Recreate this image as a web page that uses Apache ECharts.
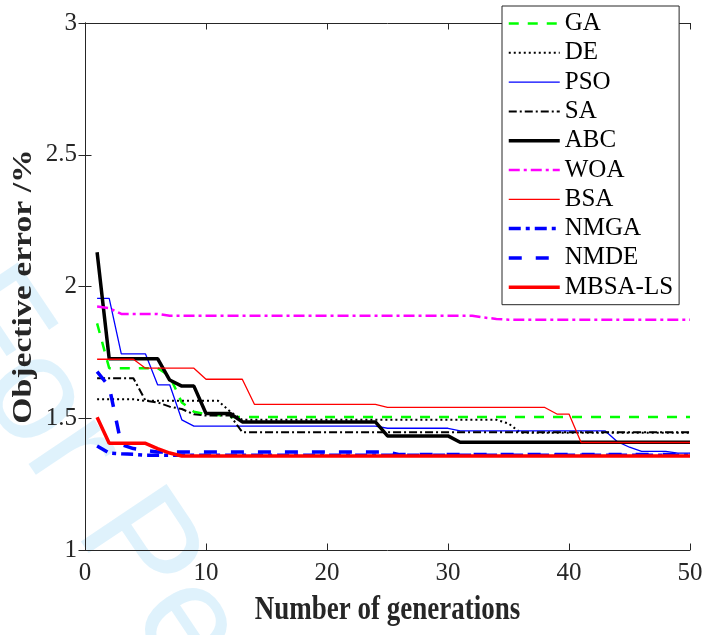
<!DOCTYPE html>
<html>
<head>
<meta charset="utf-8">
<script src="https://cdn.jsdelivr.net/npm/echarts@6/dist/echarts.min.js"></script>
<style>html,body{margin:0;padding:0;background:#fff;}#chart{width:711px;height:635px;}</style>
</head>
<body>
<div id="chart"></div>
<script>
const generations = [1,2,3,4,5,6,7,8,9,10,11,12,13,14,15,16,17,18,19,20,21,22,23,24,25,26,27,28,29,30,31,32,33,34,35,36,37,38,39,40,41,42,43,44,45,46,47,48,49,50];
const seriesNames = ['GA','DE','PSO','SA','ABC','WOA','BSA','NMGA','NMDE','MBSA-LS'];
const xTickLabels = ['0','10','20','30','40','50'];
const yTickLabels = ['1','1.5','2','2.5','3'];

const GA = [1.86,1.69,1.69,1.69,1.69,1.69,1.66,1.56,1.525,1.515,
  1.512,1.505,1.505,1.505,1.505,1.505,1.505,1.505,1.505,1.505,
  1.505,1.505,1.505,1.505,1.505,1.505,1.505,1.505,1.505,1.505,
  1.505,1.505,1.505,1.505,1.505,1.505,1.505,1.505,1.505,1.505,
  1.505,1.505,1.505,1.505,1.505,1.505,1.505,1.505,1.505,1.505];
const DE = [1.572,1.572,1.572,1.572,1.566,1.566,1.566,1.566,1.566,1.566,
  1.566,1.525,1.494,1.494,1.494,1.494,1.494,1.494,1.494,1.494,
  1.494,1.494,1.494,1.494,1.494,1.494,1.494,1.494,1.494,1.494,
  1.494,1.494,1.494,1.494,1.48,1.445,1.445,1.445,1.445,1.445,
  1.445,1.445,1.445,1.445,1.445,1.445,1.445,1.445,1.445,1.445];
const PSO = [1.955,1.955,1.744,1.744,1.744,1.627,1.627,1.494,1.47,1.47,
  1.47,1.47,1.47,1.47,1.47,1.47,1.47,1.47,1.47,1.47,
  1.47,1.47,1.47,1.47,1.462,1.462,1.462,1.462,1.462,1.462,
  1.452,1.452,1.452,1.452,1.452,1.452,1.452,1.452,1.452,1.452,
  1.452,1.452,1.452,1.411,1.39,1.374,1.374,1.374,1.368,1.368];
const SA = [1.652,1.652,1.652,1.652,1.567,1.56,1.544,1.535,1.515,1.51,
  1.51,1.51,1.447,1.447,1.447,1.447,1.447,1.447,1.447,1.447,
  1.447,1.447,1.447,1.447,1.447,1.447,1.447,1.447,1.447,1.447,
  1.447,1.447,1.447,1.447,1.447,1.447,1.447,1.447,1.447,1.447,
  1.447,1.447,1.447,1.447,1.447,1.447,1.447,1.447,1.447,1.447];
const ABC = [2.13,1.726,1.726,1.726,1.726,1.726,1.645,1.622,1.622,1.518,
  1.518,1.518,1.486,1.486,1.486,1.486,1.486,1.486,1.486,1.486,
  1.486,1.486,1.486,1.486,1.433,1.433,1.433,1.433,1.433,1.433,
  1.409,1.409,1.409,1.409,1.409,1.409,1.409,1.409,1.409,1.409,
  1.409,1.409,1.409,1.409,1.409,1.409,1.409,1.409,1.409,1.409];
const WOA = [1.924,1.918,1.896,1.896,1.896,1.896,1.889,1.889,1.889,1.889,
  1.889,1.889,1.889,1.889,1.889,1.889,1.889,1.889,1.889,1.889,
  1.889,1.889,1.889,1.889,1.889,1.889,1.889,1.889,1.889,1.889,
  1.889,1.889,1.882,1.877,1.874,1.874,1.874,1.874,1.874,1.874,
  1.874,1.874,1.874,1.874,1.874,1.874,1.874,1.874,1.874,1.874];
const BSA = [1.724,1.724,1.724,1.724,1.69,1.69,1.69,1.69,1.69,1.648,
  1.648,1.648,1.648,1.553,1.553,1.553,1.553,1.553,1.553,1.553,
  1.553,1.553,1.553,1.553,1.541,1.541,1.541,1.541,1.541,1.541,
  1.541,1.541,1.541,1.541,1.541,1.541,1.541,1.541,1.516,1.516,
  1.408,1.408,1.408,1.408,1.408,1.408,1.408,1.408,1.408,1.408];
const NMGA = [1.395,1.368,1.365,1.363,1.36,1.36,1.36,1.36,1.36,1.36,
  1.36,1.36,1.36,1.36,1.36,1.36,1.36,1.36,1.36,1.36,
  1.36,1.36,1.36,1.36,1.36,1.36,1.36,1.36,1.36,1.36,
  1.36,1.36,1.36,1.36,1.36,1.36,1.36,1.36,1.36,1.36,
  1.36,1.36,1.36,1.36,1.36,1.36,1.36,1.36,1.36,1.36];
const NMDE = [1.677,1.62,1.40,1.385,1.378,1.372,1.372,1.372,1.372,1.372,
  1.372,1.372,1.372,1.372,1.372,1.372,1.372,1.372,1.372,1.372,
  1.372,1.372,1.372,1.372,1.372,1.362,1.362,1.362,1.362,1.362,
  1.362,1.362,1.362,1.362,1.362,1.362,1.362,1.362,1.362,1.362,
  1.362,1.362,1.362,1.362,1.362,1.362,1.362,1.362,1.362,1.362];
const MBSA_LS = [1.504,1.405,1.405,1.405,1.405,1.385,1.368,1.357,1.357,1.357,
  1.357,1.357,1.357,1.357,1.357,1.357,1.357,1.357,1.357,1.357,
  1.357,1.357,1.357,1.357,1.357,1.357,1.357,1.357,1.357,1.357,
  1.357,1.357,1.357,1.357,1.357,1.357,1.357,1.357,1.357,1.357,
  1.357,1.357,1.357,1.357,1.357,1.357,1.357,1.357,1.357,1.357];

const values = [GA, DE, PSO, SA, ABC, WOA, BSA, NMGA, NMDE, MBSA_LS];
const styles = [
  {color:'#00ff00', width:2.5, type:[10,9]},
  {color:'#000000', width:2, type:[2,3]},
  {color:'#0000ff', width:1.3, type:'solid'},
  {color:'#000000', width:2, type:[8,3,2,3]},
  {color:'#000000', width:3.5, type:'solid'},
  {color:'#ff00ff', width:2.5, type:[11,4,3,4]},
  {color:'#ff0000', width:1.3, type:'solid'},
  {color:'#0000ff', width:3.5, type:[12,5,4,5]},
  {color:'#0000ff', width:3.5, type:[13,14]},
  {color:'#ff0000', width:3.5, type:'solid'}
];

const FONT = 'Liberation Serif';
const AX = '#262626';

const chart = echarts.init(document.getElementById('chart'));
const series = seriesNames.map((name, i) => ({
  name: name,
  type: 'line',
  symbol: 'none',
  animation: false,
  data: generations.map((g, k) => [g, values[i][k]]),
  lineStyle: {color: styles[i].color, width: styles[i].width, type: styles[i].type},
  itemStyle: {color: styles[i].color}
}));

const tickStyle = {show: true, inside: true, length: 6.5, lineStyle: {color: AX, width: 1}};
const lineStyleAx = {show: true, lineStyle: {color: AX, width: 1}};

chart.setOption({
  animation: false,
  backgroundColor: '#ffffff',
  grid: {left: 85, top: 23, right: 21, bottom: 85, containLabel: false},
  xAxis: [{
    type: 'value', min: 0, max: 50, interval: 10, position: 'bottom',
    axisLine: lineStyleAx, axisTick: tickStyle, splitLine: {show: false},
    axisLabel: {color: '#262626', fontFamily: FONT, fontSize: 25, margin: 11,
      formatter: v => xTickLabels[Math.round(v / 10)]}
  }, {
    type: 'value', min: 0, max: 50, interval: 10, position: 'top',
    axisLine: lineStyleAx, axisTick: tickStyle, splitLine: {show: false},
    axisLabel: {show: false}
  }],
  yAxis: [{
    type: 'value', min: 1, max: 3, interval: 0.5, position: 'left',
    axisLine: lineStyleAx, axisTick: tickStyle, splitLine: {show: false},
    axisLabel: {color: '#262626', fontFamily: FONT, fontSize: 25, margin: 8,
      formatter: v => yTickLabels[Math.round((v - 1) / 0.5)]}
  }, {
    type: 'value', min: 1, max: 3, interval: 0.5, position: 'right',
    axisLine: lineStyleAx, axisTick: tickStyle, splitLine: {show: false},
    axisLabel: {show: false}
  }],
  legend: {
    orient: 'vertical', left: 502, top: 6,
    data: seriesNames.map((n, i) => ({name: n, lineStyle: {width: styles[i].width}})),
    itemWidth: 51, itemHeight: 14, itemGap: 4.3,
    padding: [5, 6, 5, 5],
    backgroundColor: '#ffffff', borderColor: AX, borderWidth: 1,
    itemStyle: {opacity: 0, borderWidth: 0},
    textStyle: {color: '#000', fontFamily: FONT, fontSize: 25, lineHeight: 25},
    selectedMode: false
  },
  graphic: [
    {type: 'text', z: -10, x: 22, y: 245, rotation: -0.98,
      style: {text: 'For Peer Review', fill: 'rgba(140,210,245,0.28)', fontSize: 150,
        fontFamily: 'Liberation Sans', textAlign: 'left', textVerticalAlign: 'top'}},
    {type: 'text', x: 387.5, y: 610, scaleY: 1.23,
      style: {text: 'Number of generations', fill: '#262626', fontSize: 27, fontWeight: 'bold',
        fontFamily: FONT, textAlign: 'center', textVerticalAlign: 'middle'}},
    {type: 'text', x: 24, y: 286.5, rotation: Math.PI / 2, scaleX: 1.23,
      style: {text: 'Objective error /%', fill: '#262626', fontSize: 27.4, fontWeight: 'bold',
        fontFamily: FONT, textAlign: 'center', textVerticalAlign: 'middle'}}
  ],
  series: series
});
</script>
</body>
</html>
